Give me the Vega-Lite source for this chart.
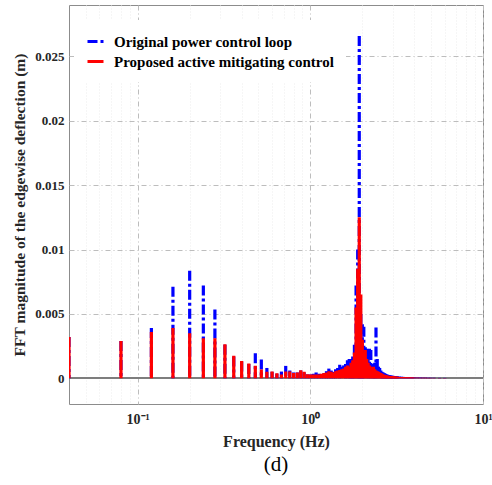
{
  "$schema": "https://vega.github.io/schema/vega-lite/v6.json",
  "width": 414,
  "height": 399,
  "autosize": {"type": "none"},
  "padding": {"left": 69, "top": 5, "right": 9, "bottom": 81},
  "background": "white",
  "title": {"text": "(d)", "orient": "bottom", "font": "Liberation Serif", "fontSize": 21, "fontWeight": "normal", "color": "#000000", "offset": 5, "anchor": "middle"},
  "config": {
    "view": {"stroke": "#8c8c8c", "strokeWidth": 1},
    "legend": {
      "orient": "none", "legendX": 5, "legendY": 15, "padding": 12, "fillColor": "white", "strokeColor": null,
      "labelFont": "Liberation Serif", "labelFontSize": 15, "labelFontWeight": "bold", "labelColor": "#000000",
      "symbolType": "stroke", "symbolStrokeWidth": 3, "symbolSize": 256, "labelOffset": 9, "rowPadding": 2, "title": null,
      "labelLimit": 400
    }
  },
  "data": {"values": [
    {"f":0.04,"s":"O","v":0.0032},{"f":0.08,"s":"O","v":0.0029},{"f":0.12,"s":"O","v":0.0039},{"f":0.16,"s":"O","v":0.0071},
    {"f":0.20,"s":"O","v":0.00835},{"f":0.24,"s":"O","v":0.0072},{"f":0.28,"s":"O","v":0.00535},{"f":0.32,"s":"O","v":0.0026},
    {"f":0.36,"s":"O","v":0.0017},{"f":0.40,"s":"O","v":0.0013},{"f":0.44,"s":"O","v":0.0011},{"f":0.48,"s":"O","v":0.00195},
    {"f":0.52,"s":"O","v":0.00145},{"f":0.56,"s":"O","v":0.0008},{"f":0.60,"s":"O","v":0.0005},{"f":0.64,"s":"O","v":0.00035},
    {"f":0.68,"s":"O","v":0.00052},{"f":0.72,"s":"O","v":0.00096},{"f":0.76,"s":"O","v":0.0006},{"f":0.80,"s":"O","v":0.00045},
    {"f":0.84,"s":"O","v":0.00045},{"f":0.88,"s":"O","v":0.0006},{"f":0.92,"s":"O","v":0.00045},{"f":0.96,"s":"O","v":0.0003},
    {"f":1.00,"s":"O","v":0.0003},{"f":1.04,"s":"O","v":0.00035},{"f":1.08,"s":"O","v":0.00045},{"f":1.12,"s":"O","v":0.00035},
    {"f":1.16,"s":"O","v":0.0003},{"f":1.20,"s":"O","v":0.0004},{"f":1.24,"s":"O","v":0.00055},{"f":1.28,"s":"O","v":0.00075},
    {"f":1.32,"s":"O","v":0.0006},{"f":1.36,"s":"O","v":0.0005},{"f":1.40,"s":"O","v":0.0007},{"f":1.44,"s":"O","v":0.0008},
    {"f":1.48,"s":"O","v":0.00105},{"f":1.52,"s":"O","v":0.0009},{"f":1.56,"s":"O","v":0.001},{"f":1.60,"s":"O","v":0.0011},
    {"f":1.64,"s":"O","v":0.0014},{"f":1.68,"s":"O","v":0.0015},{"f":1.72,"s":"O","v":0.0015},{"f":1.76,"s":"O","v":0.0017},
    {"f":1.80,"s":"O","v":0.0026},{"f":1.84,"s":"O","v":0.0072},{"f":1.88,"s":"O","v":0.0100},{"f":1.92,"s":"O","v":0.0266},
    {"f":1.96,"s":"O","v":0.0050},{"f":2.00,"s":"O","v":0.0042},{"f":2.04,"s":"O","v":0.0040},{"f":2.08,"s":"O","v":0.0024},
    {"f":2.12,"s":"O","v":0.0023},{"f":2.16,"s":"O","v":0.0016},{"f":2.20,"s":"O","v":0.0023},{"f":2.24,"s":"O","v":0.0022},
    {"f":2.28,"s":"O","v":0.0010},{"f":2.32,"s":"O","v":0.0011},{"f":2.36,"s":"O","v":0.0012},{"f":2.40,"s":"O","v":0.00395},
    {"f":2.44,"s":"O","v":0.0015},{"f":2.48,"s":"O","v":0.0009},{"f":2.52,"s":"O","v":0.0008},{"f":2.56,"s":"O","v":0.0006},
    {"f":2.60,"s":"O","v":0.0005},{"f":2.64,"s":"O","v":0.00045},{"f":2.68,"s":"O","v":0.0004},{"f":2.72,"s":"O","v":0.00035},
    {"f":2.76,"s":"O","v":0.0003},{"f":2.80,"s":"O","v":0.00028},{"f":2.84,"s":"O","v":0.00025},{"f":2.88,"s":"O","v":0.00023},
    {"f":2.92,"s":"O","v":0.00021},{"f":2.96,"s":"O","v":0.0002},{"f":3.00,"s":"O","v":0.00019},{"f":3.04,"s":"O","v":0.00018},
    {"f":3.08,"s":"O","v":0.00017},{"f":3.12,"s":"O","v":0.00016},{"f":3.16,"s":"O","v":0.00015},{"f":3.20,"s":"O","v":0.00014},
    {"f":3.28,"s":"O","v":0.00013},{"f":3.36,"s":"O","v":0.00012},{"f":3.44,"s":"O","v":0.00011},{"f":3.52,"s":"O","v":0.0001},
    {"f":3.60,"s":"O","v":0.0001},{"f":3.68,"s":"O","v":0.00009},{"f":3.76,"s":"O","v":0.00009},{"f":3.84,"s":"O","v":0.00008},
    {"f":3.92,"s":"O","v":0.00008},{"f":4.00,"s":"O","v":0.00007},{"f":4.16,"s":"O","v":0.00006},{"f":4.32,"s":"O","v":0.00006},
    {"f":4.48,"s":"O","v":0.00005},{"f":4.64,"s":"O","v":0.00005},{"f":4.80,"s":"O","v":0.00004},{"f":4.96,"s":"O","v":0.00004},
    {"f":5.2,"s":"O","v":0.00004},{"f":5.6,"s":"O","v":0.00003},{"f":6.0,"s":"O","v":0.00003},

    {"f":0.04,"s":"P","v":0.0032},{"f":0.08,"s":"P","v":0.0029},{"f":0.12,"s":"P","v":0.0036},{"f":0.16,"s":"P","v":0.0039},
    {"f":0.20,"s":"P","v":0.0035},{"f":0.24,"s":"P","v":0.0031},{"f":0.28,"s":"P","v":0.0031},{"f":0.32,"s":"P","v":0.00265},
    {"f":0.36,"s":"P","v":0.00175},{"f":0.40,"s":"P","v":0.00135},{"f":0.44,"s":"P","v":0.00115},{"f":0.48,"s":"P","v":0.00098},
    {"f":0.52,"s":"P","v":0.00068},{"f":0.56,"s":"P","v":0.0005},{"f":0.60,"s":"P","v":0.00052},{"f":0.64,"s":"P","v":0.00039},
    {"f":0.68,"s":"P","v":0.0003},{"f":0.72,"s":"P","v":0.00052},{"f":0.76,"s":"P","v":0.00052},{"f":0.80,"s":"P","v":0.0004},
    {"f":0.84,"s":"P","v":0.00044},{"f":0.88,"s":"P","v":0.00062},{"f":0.92,"s":"P","v":0.0005},{"f":0.96,"s":"P","v":0.00032},
    {"f":1.00,"s":"P","v":0.0003},{"f":1.04,"s":"P","v":0.0003},{"f":1.08,"s":"P","v":0.0003},{"f":1.12,"s":"P","v":0.0003},
    {"f":1.16,"s":"P","v":0.00035},{"f":1.20,"s":"P","v":0.0004},{"f":1.24,"s":"P","v":0.00045},{"f":1.28,"s":"P","v":0.00055},
    {"f":1.32,"s":"P","v":0.0005},{"f":1.36,"s":"P","v":0.00045},{"f":1.40,"s":"P","v":0.00055},{"f":1.44,"s":"P","v":0.0006},
    {"f":1.48,"s":"P","v":0.00065},{"f":1.52,"s":"P","v":0.0007},{"f":1.56,"s":"P","v":0.00075},{"f":1.60,"s":"P","v":0.0009},
    {"f":1.64,"s":"P","v":0.001},{"f":1.68,"s":"P","v":0.0009},{"f":1.72,"s":"P","v":0.0012},{"f":1.76,"s":"P","v":0.0014},
    {"f":1.80,"s":"P","v":0.002},{"f":1.84,"s":"P","v":0.0055},{"f":1.88,"s":"P","v":0.0085},{"f":1.92,"s":"P","v":0.0125},
    {"f":1.96,"s":"P","v":0.0065},{"f":2.00,"s":"P","v":0.003},{"f":2.04,"s":"P","v":0.002},{"f":2.08,"s":"P","v":0.0022},
    {"f":2.12,"s":"P","v":0.0015},{"f":2.16,"s":"P","v":0.0012},{"f":2.20,"s":"P","v":0.001},{"f":2.24,"s":"P","v":0.0009},
    {"f":2.28,"s":"P","v":0.0008},{"f":2.32,"s":"P","v":0.0009},{"f":2.36,"s":"P","v":0.0007},{"f":2.40,"s":"P","v":0.0006},
    {"f":2.44,"s":"P","v":0.00055},{"f":2.48,"s":"P","v":0.0005},{"f":2.52,"s":"P","v":0.00045},{"f":2.56,"s":"P","v":0.0004},
    {"f":2.60,"s":"P","v":0.00035},{"f":2.64,"s":"P","v":0.0003},{"f":2.68,"s":"P","v":0.00028},{"f":2.72,"s":"P","v":0.00025},
    {"f":2.76,"s":"P","v":0.00022},{"f":2.80,"s":"P","v":0.0002},{"f":2.84,"s":"P","v":0.00019},{"f":2.88,"s":"P","v":0.00018},
    {"f":2.92,"s":"P","v":0.00017},{"f":2.96,"s":"P","v":0.00016},{"f":3.00,"s":"P","v":0.00015},{"f":3.04,"s":"P","v":0.00014},
    {"f":3.08,"s":"P","v":0.00013},{"f":3.12,"s":"P","v":0.00012},{"f":3.16,"s":"P","v":0.00012},{"f":3.20,"s":"P","v":0.00011},
    {"f":3.28,"s":"P","v":0.0001},{"f":3.36,"s":"P","v":0.00009},{"f":3.44,"s":"P","v":0.00009},{"f":3.52,"s":"P","v":0.00008},
    {"f":3.60,"s":"P","v":0.00008},{"f":3.68,"s":"P","v":0.00007},{"f":3.76,"s":"P","v":0.00007},{"f":3.84,"s":"P","v":0.00006},
    {"f":3.92,"s":"P","v":0.00006},{"f":4.00,"s":"P","v":0.00005},{"f":4.16,"s":"P","v":0.00005},{"f":4.32,"s":"P","v":0.00004},
    {"f":4.48,"s":"P","v":0.00004},{"f":4.64,"s":"P","v":0.00004},{"f":4.80,"s":"P","v":0.00003},{"f":4.96,"s":"P","v":0.00003},
    {"f":5.2,"s":"P","v":0.00003},{"f":5.6,"s":"P","v":0.00002},{"f":6.0,"s":"P","v":0.00002}
  ]},
  "layer": [
    {
      "mark": {"type": "rule", "color": "#7f7f7f", "strokeWidth": 1},
      "encoding": {"y": {"datum": 0}}
    },
    {
      "mark": {"type": "rule", "strokeWidth": 3.2, "clip": true, "strokeCap": "butt"},
      "encoding": {
        "x": {
          "field": "f", "type": "quantitative",
          "scale": {"type": "log", "domain": [0.04, 10], "nice": false},
          "axis": {
            "values": [0.05,0.06,0.07,0.08,0.09,0.1,0.2,0.3,0.4,0.5,0.6,0.7,0.8,0.9,1,2,3,4,5,6,7,8,9,10],
            "labelExpr": "datum.value === 0.1 ? '10⁻¹' : datum.value === 1 ? '10⁰' : datum.value === 10 ? '10¹' : ''",
            "title": "Frequency (Hz)",
            "grid": true,
            "gridColor": {"condition": {"test": "datum.value === 0.1 || datum.value === 1 || datum.value === 10", "value": "#bdbdbd"}, "value": "#ededed"},
            "gridDash": {"condition": {"test": "datum.value === 0.1 || datum.value === 1 || datum.value === 10", "value": [5, 3, 1, 3]}, "value": [1, 2]},
            "ticks": false, "domain": false,
            "labelFont": "Liberation Serif", "labelFontSize": 14, "labelFontWeight": "bold", "labelColor": "#262626",
            "labelPadding": 8, "labelFlush": false, "labelOverlap": false,
            "titleFont": "Liberation Serif", "titleFontSize": 16, "titleFontWeight": "bold", "titleColor": "#262626", "titlePadding": 7
          }
        },
        "y": {
          "field": "v", "type": "quantitative",
          "scale": {"domain": [-0.002, 0.029], "nice": false, "zero": false},
          "axis": {
            "values": [0, 0.005, 0.01, 0.015, 0.02, 0.025],
            "format": "~g",
            "title": "FFT magnitude of the edgewise deflection (m)",
            "grid": true, "gridColor": "#bdbdbd", "gridDash": [5, 3, 1, 3],
            "ticks": false, "domain": false,
            "labelFont": "Liberation Serif", "labelFontSize": 13, "labelFontWeight": "bold", "labelColor": "#262626",
            "labelPadding": 5,
            "titleFont": "Liberation Serif", "titleFontSize": 15.5, "titleFontWeight": "bold", "titleColor": "#262626", "titlePadding": 7
          }
        },
        "y2": {"datum": 0},
        "color": {
          "field": "s", "type": "nominal",
          "scale": {"domain": ["O", "P"], "range": ["#0000ff", "#ff0000"]},
          "legend": {"labelExpr": "datum.label == 'O' ? 'Original power control loop' : 'Proposed active mitigating control'"}
        },
        "strokeDash": {
          "field": "s", "type": "nominal",
          "scale": {"domain": ["O", "P"], "range": [[10, 3, 3, 3], [1, 0]]},
          "legend": {"labelExpr": "datum.label == 'O' ? 'Original power control loop' : 'Proposed active mitigating control'"}
        }
      }
    }
  ]
}
